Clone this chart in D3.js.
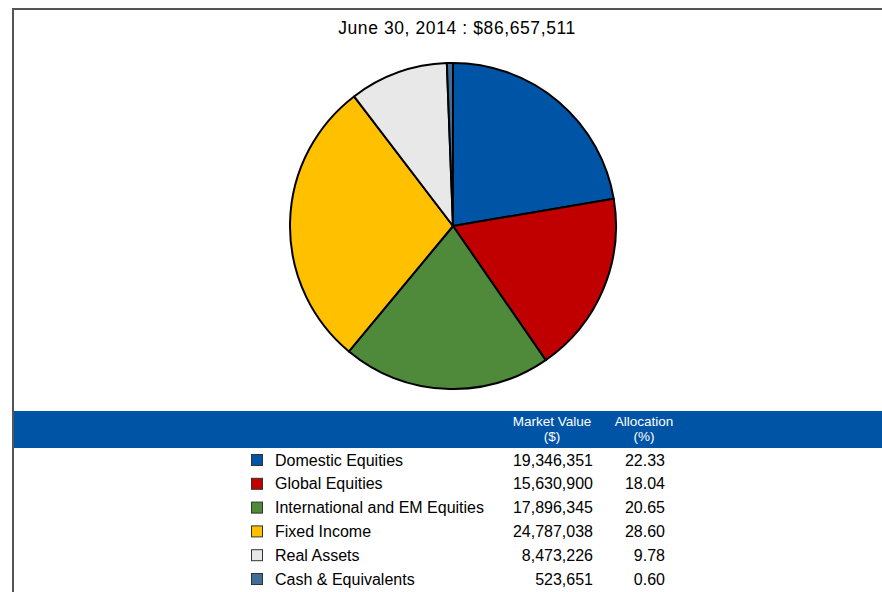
<!DOCTYPE html>
<html>
<head>
<meta charset="utf-8">
<script src="https://cdn.jsdelivr.net/npm/d3@7"></script>
<style>
  html, body { margin: 0; padding: 0; background: #fff; }
  svg { display: block; font-family: "Liberation Sans", Arial, sans-serif; }
</style>
</head>
<body>
<svg id="chart" width="882" height="592"></svg>
<script>
const title = "June 30, 2014 : $86,657,511";
const categories = ["Domestic Equities", "Global Equities", "International and EM Equities", "Fixed Income", "Real Assets", "Cash & Equivalents"];
const marketValues = [19346351, 15630900, 17896345, 24787038, 8473226, 523651];
const allocations = [22.33, 18.04, 20.65, 28.60, 9.78, 0.60];
const colors = ["#0054A6", "#C00000", "#4E8A3A", "#FFC000", "#E8E8E8", "#3F6E98"];
const headers = [["Market Value", "($)"], ["Allocation", "(%)"]];

const svg = d3.select("#chart");

// frame around the chart area
svg.append("path")
  .attr("d", "M13,592 V9 H882")
  .attr("fill", "none")
  .attr("stroke", "#555")
  .attr("stroke-width", 2);

svg.append("text")
  .attr("x", 457).attr("y", 34)
  .attr("text-anchor", "middle")
  .attr("font-size", 17.5)
  .attr("letter-spacing", 0.6)
  .attr("fill", "#000")
  .text(title);

// pie, starting at 12 o'clock, clockwise
const cx = 453, cy = 226, r = 163;
const pie = d3.pie().sort(null).value(d => d)(allocations);
const arc = d3.arc().innerRadius(0).outerRadius(r);
svg.append("g")
  .attr("transform", `translate(${cx},${cy})`)
  .selectAll("path")
  .data(pie)
  .join("path")
  .attr("d", arc)
  .attr("fill", (d, i) => colors[i])
  .attr("stroke", "#000")
  .attr("stroke-width", 2)
  .attr("stroke-linejoin", "round");

// table header band
svg.append("rect")
  .attr("x", 14).attr("y", 411)
  .attr("width", 868).attr("height", 37)
  .attr("fill", "#0054A6");

const headerX = [552, 644];
headers.forEach((lines, j) => {
  lines.forEach((t, k) => {
    svg.append("text")
      .attr("x", headerX[j]).attr("y", 426 + k * 15)
      .attr("text-anchor", "middle")
      .attr("font-size", 13.5)
      .attr("fill", "#fff")
      .text(t);
  });
});

// legend rows
const rowY = d3.scalePoint().domain(categories).range([460, 579]);
const fmt = d3.format(",");
const rows = svg.append("g").selectAll("g")
  .data(categories)
  .join("g")
  .attr("transform", d => `translate(0,${rowY(d)})`);

rows.append("rect")
  .attr("x", 251.5).attr("y", -5.5)
  .attr("width", 11).attr("height", 11)
  .attr("fill", (d, i) => colors[i])
  .attr("stroke", "#333")
  .attr("stroke-width", 1);

rows.append("text")
  .attr("x", 275).attr("dy", "0.35em")
  .attr("font-size", 16)
  .attr("fill", "#000")
  .text(d => d);

rows.append("text")
  .attr("x", 593).attr("dy", "0.35em")
  .attr("text-anchor", "end")
  .attr("font-size", 16)
  .attr("fill", "#000")
  .text((d, i) => fmt(marketValues[i]));

rows.append("text")
  .attr("x", 665).attr("dy", "0.35em")
  .attr("text-anchor", "end")
  .attr("font-size", 16)
  .attr("fill", "#000")
  .text((d, i) => allocations[i].toFixed(2));
</script>
</body>
</html>
